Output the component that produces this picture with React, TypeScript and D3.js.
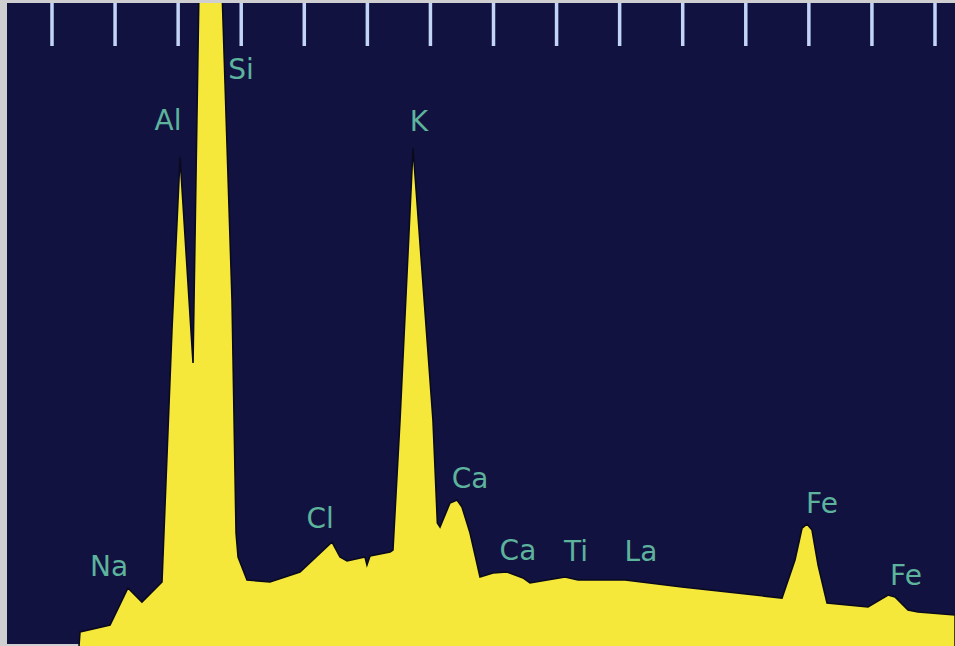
import React from "react";
import * as d3 from "d3";

// Spectrum outline: energy (keV) and counts (arbitrary)
const energy = [0.714, 0.722, 0.960, 1.102, 1.213, 1.372, 1.451, 1.515, 1.618, 1.665, 1.848, 1.927, 1.959, 1.975, 2.046, 2.228, 2.466, 2.720, 2.783, 2.839, 2.981, 2.997, 3.021, 3.180, 3.203, 3.259, 3.362, 3.520, 3.555, 3.576, 3.655, 3.711, 3.750, 3.814, 3.893, 3.996, 4.107, 4.234, 4.289, 4.567, 4.670, 5.043, 5.494, 6.287, 6.390, 6.446, 6.485, 6.525, 6.573, 6.644, 6.969, 7.128, 7.183, 7.286, 7.365, 7.659, 7.659];
const counts = [0, 21.8, 32.7, 90.2, 68.4, 99.5, 491.4, 760.5, 440.1, 1020, 1020, 538.1, 175.7, 138.4, 102.6, 99.5, 115.1, 161.7, 138.4, 132.2, 138.4, 126.0, 140.0, 146.2, 149.3, 351.5, 774.5, 351.5, 191.3, 185.1, 222.4, 227.1, 216.2, 175.7, 107.3, 113.5, 115.1, 105.8, 98.0, 107.3, 102.6, 102.6, 91.8, 74.6, 133.7, 183.5, 189.7, 180.4, 126.0, 66.9, 60.7, 79.3, 76.2, 56.0, 52.9, 48.2, 0];

// Element labels
const labelText = ["Na", "Al", "Si", "Cl", "K", "Ca", "Ca", "Ti", "La", "Fe", "Fe"];
const labelEnergy = [0.952, 1.420, 1.998, 2.625, 3.409, 3.814, 4.194, 4.654, 5.169, 6.604, 7.270];
const labelCount = [108.9, 802.5, 881.8, 183.5, 800.9, 245.7, 133.7, 132.2, 132.2, 206.8, 94.9];

// Tick energies (keV)
const tickEnergy = d3.range(0.5, 7.51, 0.5);

const W = 955;
const H = 646;

export default function App() {
  const x = d3.scaleLinear().domain([0.5, 7.5]).range([52, 935]);
  const y = d3.scaleLinear().domain([0, 1000]).range([646, 3]);
  const pts: [number, number][] = energy.map((e, i) => [e, counts[i]]);
  const area = d3
    .area<[number, number]>()
    .x((d) => x(d[0]))
    .y0(y(0) + 5)
    .y1((d) => y(d[1]))
    .curve(d3.curveLinear);

  return (
    <div style={{ position: "fixed", left: 0, top: 0, width: W, height: H }}>
      <svg width={W} height={H} style={{ display: "block" }}>
        <defs>
          <clipPath id="plot">
            <rect x={7} y={3} width={W - 7} height={H - 3} />
          </clipPath>
        </defs>
        <rect x={0} y={0} width={W} height={H} fill="#cfcfd2" />
        <rect x={7} y={3} width={W - 7} height={H - 5} fill="#121240" />
        <g clipPath="url(#plot)">
          <path d={area(pts) || ""} fill="#f5e83a" stroke="#0a0a1e" strokeWidth={1.6} strokeLinejoin="miter" />
          {tickEnergy.map((t, i) => (
            <line
              key={i}
              x1={x(t)}
              x2={x(t)}
              y1={3}
              y2={46}
              stroke="#c3d5f7"
              strokeWidth={3.5}
            />
          ))}
          {labelText.map((t, i) => (
            <text
              key={i}
              x={x(labelEnergy[i])}
              y={y(labelCount[i])}
              textAnchor="middle"
              fill="#5db39c"
              fontFamily="DejaVu Sans, sans-serif"
              fontSize={28}
            >
              {t}
            </text>
          ))}
        </g>
      </svg>
    </div>
  );
}
